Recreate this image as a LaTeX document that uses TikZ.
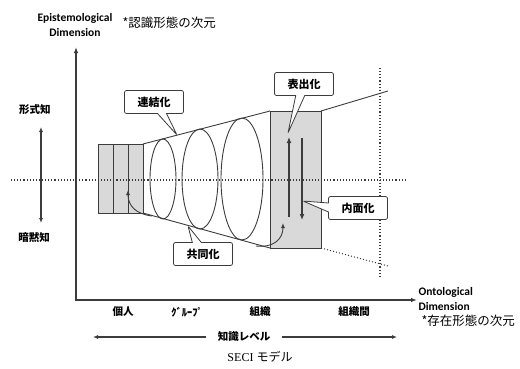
\documentclass[tikz,border=0pt]{standalone}
\usepackage{fontspec}
\usepackage{tikz}
\usetikzlibrary{arrows.meta,shapes.callouts}
\newfontfamily\jpfont{Noto Sans CJK JP}
\newfontfamily\enfont{Carlito}
\newfontfamily\capfont{Liberation Serif}
\definecolor{inkgray}{HTML}{3C3C3C}
\definecolor{boxgray}{HTML}{D9D9D9}

\begin{document}
\begin{tikzpicture}[x=1pt,y=-1pt,
  line/.style={draw=inkgray,line width=0.9pt},
  shade/.style={line,fill=boxgray},
  dots/.style={draw=inkgray,line width=1.1pt,dotted},
  tip/.style={-{Latex[length=5pt,width=4pt]}},
  callbox/.style={rectangle callout,draw=inkgray,fill=white,rounded corners=2pt,
    line width=0.8pt,minimum width=59pt,minimum height=23pt,callout pointer width=9pt,
    font=\jpfont\bfseries\fontsize{11}{13}\selectfont},
  jp/.style={font=\jpfont\bfseries\fontsize{10.5}{12}\selectfont},
  en/.style={font=\enfont\bfseries\fontsize{11.5}{15}\selectfont}]
\useasboundingbox (0,0) rectangle (520,368);

% axes
\coordinate (ytop) at (76,47);
\coordinate (orig) at (76,300);
\coordinate (xend) at (417,300);
\draw[draw=inkgray,line width=1.5pt,{Latex[length=6pt,width=4.5pt]}-{Latex[length=6pt,width=4.5pt]}] (ytop) -- (orig) -- (xend);

\node[en,align=center] (epi) at (75,25) {Epistemological\\Dimension};
\node[font=\jpfont\fontsize{12.5}{14}\selectfont,anchor=west] (epijp) at (119,23) {*認識形態の次元};
\node[en,align=left,anchor=west] (onto) at (415,299) {Ontological\\Dimension};
\node[font=\jpfont\fontsize{12.5}{14}\selectfont,anchor=west] (ontojp) at (418,321) {*存在形態の次元};

% tacit / explicit
\node[jp] (keishiki) at (35,110) {形式知};
\node[jp] (anmoku) at (34,238) {暗黙知};
\coordinate (dblA) at (41,127);
\coordinate (dblB) at (41,223);
\draw[line width=1.4pt,draw=inkgray,{Latex[length=5pt,width=4pt]}-{Latex[length=5pt,width=4pt]}] (dblA) -- (dblB);

% small boxes
\foreach \i in {0,1,2}
  \draw[shade] (98+15*\i,144) rectangle ++(15,69);

% funnel
\coordinate (sA) at (143,144);
\coordinate (sB) at (143,213);
\coordinate (bA) at (270,111);
\coordinate (bB) at (270,248);
\coordinate (bC) at (321,111);
\coordinate (bD) at (321,248);
\coordinate (eA) at (388,91);
\coordinate (eB) at (388,266);
\draw[shade] (bA) rectangle (bD);
\draw[line] (sA) -- (bA);
\draw[line] (sB) -- (bB);
\draw[line] (bC) -- (eA);
\draw[dots,line width=1pt] (bD) -- (eB);

% spiral loops
\draw[line] (163,179) ellipse [x radius=13pt,y radius=40pt];
\draw[line] (200,179) ellipse [x radius=18pt,y radius=50pt];
\draw[line] (242,179) ellipse [x radius=21pt,y radius=61pt];
\draw[line,tip] (152,216) .. controls (136,214) and (128,206) .. (128,190);
\draw[line,tip] (256,246) .. controls (275,248) and (283,238) .. (283,223);

% arrows in the big box
\draw[draw=inkgray,line width=2.2pt,-{Latex[length=6pt,width=5pt]}] (289,217) -- (289,137);
\draw[draw=inkgray,line width=2.2pt,-{Latex[length=6pt,width=5pt]}] (302,138) -- (302,220);

% dotted lines
\draw[dots] (11,180) -- (407,180);
\draw[dots] (380,68) -- (380,278);

% callouts
\coordinate (tipR) at (177,135);
\coordinate (tipH) at (288,133);
\coordinate (tipN) at (303,201);
\coordinate (tipK) at (188,226);
\node[callbox,callout absolute pointer={(tipR)}] (renketsu) at (154,102) {連結化};
\node[callbox,callout absolute pointer={(tipH)}] (hyoshutsu) at (304,84) {表出化};
\node[callbox,callout absolute pointer={(tipN)}] (naimen) at (358,208) {内面化};
\node[callbox,callout absolute pointer={(tipK)}] (kyodo) at (203,254) {共同化};

% levels
\node[jp] (kojin) at (123,312) {個人};
\node[jp] (group) at (187,312) {ｸﾞﾙｰﾌﾟ};
\node[jp] (soshiki) at (260,312) {組織};
\node[jp] (soshikikan) at (354,312) {組織間};
\node[jp] (level) at (244,337) {知識レベル};
\coordinate (lvlL) at (93,337);
\coordinate (lvlR) at (397,337);
\draw[line width=1.4pt,draw=inkgray,tip] ([xshift=-8pt]level.west) -- (lvlL);
\draw[line width=1.4pt,draw=inkgray,tip] ([xshift=8pt]level.east) -- (lvlR);

\node (caption) at (260,357) {\capfont\fontsize{12}{14}\selectfont SECI \jpfont モデル};
\end{tikzpicture}
\end{document}
